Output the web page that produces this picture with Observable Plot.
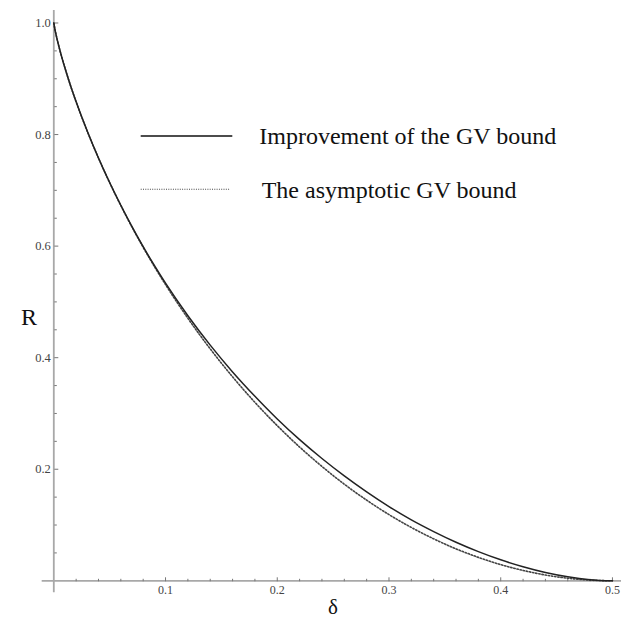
<!DOCTYPE html>
<html>
<head>
<meta charset="utf-8">
<script src="https://cdn.jsdelivr.net/npm/d3@7"></script>
<script src="https://cdn.jsdelivr.net/npm/@observablehq/plot@0.6"></script>
<style>
  html, body { margin: 0; padding: 0; background: #fff; }
  #wrap { position: relative; width: 621px; height: 621px; overflow: hidden; }
  #legend { position: absolute; left: 0; top: 0; pointer-events: none; }
</style>
</head>
<body>
<div id="wrap"></div>
<script>
// δ values (shared x positions)
const delta = [0, 0.001, 0.002, 0.005, 0.01, 0.015, 0.02, 0.03, 0.04, 0.05, 0.06, 0.07, 0.08, 0.09, 0.10,
  0.12, 0.14, 0.16, 0.18, 0.20, 0.22, 0.24, 0.26, 0.28, 0.30, 0.32, 0.34, 0.36, 0.38, 0.40,
  0.42, 0.44, 0.46, 0.48, 0.50];
// R read for "Improvement of the GV bound" (solid)
const improved = [1.0, 0.9886, 0.9792, 0.9546, 0.9192, 0.8876, 0.8587, 0.8058, 0.7580, 0.7141, 0.6733, 0.6350, 0.5990, 0.5653, 0.5335,
  0.4752, 0.4225, 0.3745, 0.3308, 0.2901, 0.2530, 0.2192, 0.1880, 0.1594, 0.1330, 0.1093, 0.0883, 0.0692, 0.0523, 0.0376,
  0.0252, 0.0149, 0.0072, 0.0021, 0.0];
// R read for "The asymptotic GV bound" (dotted)
const gv = [1.0, 0.9886, 0.9792, 0.9546, 0.9192, 0.8876, 0.8586, 0.8056, 0.7577, 0.7136, 0.6726, 0.6341, 0.5978, 0.5635, 0.5310,
  0.4706, 0.4158, 0.3657, 0.3199, 0.2781, 0.2398, 0.2050, 0.1732, 0.1446, 0.1187, 0.0956, 0.0752, 0.0573, 0.0420, 0.0290,
  0.0186, 0.0104, 0.0046, 0.0012, 0.0];
const xMajor = [0.1, 0.2, 0.3, 0.4, 0.5];
const xMinor = [0.02, 0.04, 0.06, 0.08, 0.12, 0.14, 0.16, 0.18, 0.22, 0.24, 0.26, 0.28, 0.32, 0.34, 0.36, 0.38, 0.42, 0.44, 0.46, 0.48];
const yMajor = [0.2, 0.4, 0.6, 0.8, 1.0];
const yMinor = [0.05, 0.1, 0.15, 0.25, 0.3, 0.35, 0.45, 0.5, 0.55, 0.65, 0.7, 0.75, 0.85, 0.9, 0.95];
const seriesLabels = ["Improvement of the GV bound", "The asymptotic GV bound"];
const xLabel = "δ";
const yLabel = "R";

const improvedData = delta.map((d, i) => ({delta: d, R: improved[i]}));
const gvData = delta.map((d, i) => ({delta: d, R: gv[i]}));

const serif = "'Liberation Serif', 'Times New Roman', serif";
const axisColor = "#a8a8a8";
const fmt = d3.format(".1f");

const chart = Plot.plot({
  width: 621,
  height: 621,
  marginLeft: 53.3,
  marginRight: 0,
  marginTop: 10,
  marginBottom: 40.7,
  x: {domain: [0, 0.5081]},
  y: {domain: [0, 1.0224]},
  style: {fontFamily: serif, background: "#fff", overflow: "visible"},
  marks: [
    // axis lines crossing at the origin, with Mathematica-style padding
    Plot.ruleY([0], {x1: -0.0104, x2: 0.5081, stroke: axisColor, strokeWidth: 1.8}),
    Plot.ruleX([0], {y1: -0.0215, y2: 1.0224, stroke: axisColor, strokeWidth: 1.8}),
    // inward tick marks on x axis
    Plot.axisX(xMinor, {anchor: "top", frameAnchor: "bottom", tickSize: 2.5, text: null, label: null, stroke: "#777", strokeWidth: 1}),
    Plot.axisX(xMajor, {anchor: "top", frameAnchor: "bottom", tickSize: 4, text: null, label: null, stroke: "#777", strokeWidth: 1}),
    Plot.axisX(xMajor, {anchor: "bottom", tickSize: 0, tickPadding: 5, tickFormat: fmt, label: null,
      fontSize: 12, fill: "#444", fontFamily: serif}),
    // inward tick marks on y axis
    Plot.axisY(yMinor, {anchor: "right", frameAnchor: "left", tickSize: 2.5, text: null, label: null, stroke: "#777", strokeWidth: 1}),
    Plot.axisY(yMajor, {anchor: "right", frameAnchor: "left", tickSize: 4, text: null, label: null, stroke: "#777", strokeWidth: 1}),
    Plot.axisY(yMajor, {anchor: "left", tickSize: 0, tickPadding: 3, tickFormat: fmt, label: null,
      fontSize: 12.5, fill: "#444", fontFamily: serif}),
    // curves
    Plot.line(gvData, {x: "delta", y: "R", curve: "monotone-x", stroke: "#444", strokeWidth: 1.6, strokeDasharray: "1.4,1.8"}),
    Plot.line(improvedData, {x: "delta", y: "R", curve: "monotone-x", stroke: "#222", strokeWidth: 1.5}),
    // axis titles
    Plot.text([xLabel], {text: d => d, frameAnchor: "bottom", dx: -4.6, dy: 33, fontSize: 21, fill: "#111", fontFamily: serif}),
    Plot.text([yLabel], {text: d => d, frameAnchor: "left", dx: -32.8, dy: 22, fontSize: 24, fill: "#111", fontFamily: serif})
  ]
});

const wrap = document.getElementById("wrap");
wrap.appendChild(chart);

// legend overlay
const leg = d3.select(wrap).append("svg")
  .attr("id", "legend").attr("width", 621).attr("height", 621);
const legendRows = [
  {label: seriesLabels[0], y: 136, x2: 232.3, stroke: "#111", width: 1.5, dash: null, tx: 259.3, ty: 144.3},
  {label: seriesLabels[1], y: 189.3, x2: 230, stroke: "#444", width: 1.1, dash: "1,1.3", tx: 261.7, ty: 198.3}
];
legendRows.forEach(r => {
  leg.append("line").attr("x1", 140.7).attr("x2", r.x2).attr("y1", r.y).attr("y2", r.y)
    .attr("stroke", r.stroke).attr("stroke-width", r.width).attr("stroke-dasharray", r.dash);
  leg.append("text").attr("x", r.tx).attr("y", r.ty).text(r.label)
    .attr("font-family", serif).attr("font-size", 24).attr("fill", "#111");
});
</script>
</body>
</html>
